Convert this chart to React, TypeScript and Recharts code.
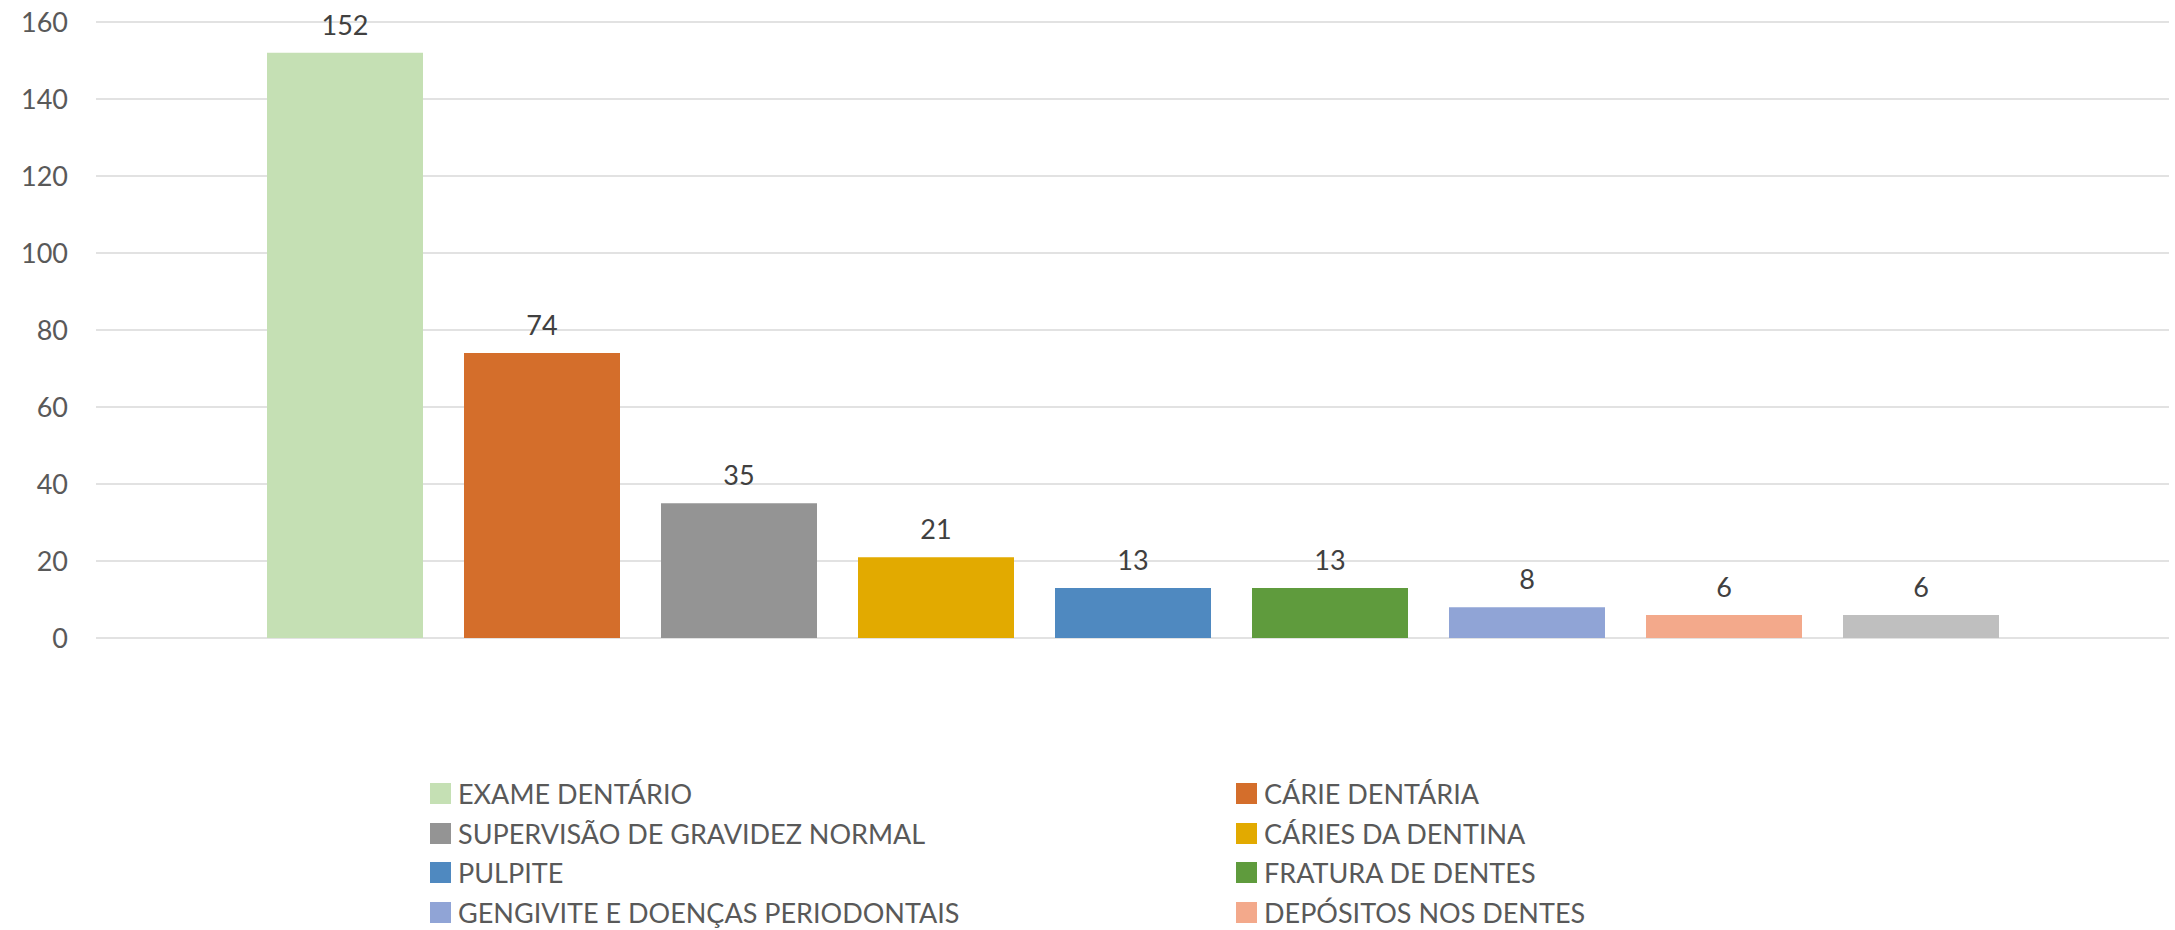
import { BarChart, Bar, XAxis, YAxis, CartesianGrid, Legend, LabelList } from "recharts";

// one category, one series per diagnosis (Excel-style clustered column)
const seriesNames = [
  "EXAME DENTÁRIO",
  "CÁRIE DENTÁRIA",
  "SUPERVISÃO DE GRAVIDEZ NORMAL",
  "CÁRIES DA DENTINA",
  "PULPITE",
  "FRATURA DE DENTES",
  "GENGIVITE E DOENÇAS PERIODONTAIS",
  "DEPÓSITOS NOS DENTES",
  "OUTROS",
];
const seriesValues = [152, 74, 35, 21, 13, 13, 8, 6, 6];
const seriesColors = [
  "#C5E0B4",
  "#D46E2B",
  "#949494",
  "#E2AA00",
  "#4F89C0",
  "#5F9B3D",
  "#90A4D6",
  "#F3A98B",
  "#BFBFBF",
];
const yTicks = [0, 20, 40, 60, 80, 100, 120, 140, 160];

const row: Record<string, string | number> = { name: "total" };
seriesNames.forEach((_, i) => {
  row[`s${i}`] = seriesValues[i];
});
const data = [row];

const FONT = "Lato, 'Open Sans', sans-serif";

function LegendBox() {
  return (
    <div
      style={{
        display: "grid",
        gridTemplateColumns: "806px 806px",
        gridAutoRows: "39.5px",
        fontFamily: FONT,
        fontSize: 27,
        color: "#595959",
      }}
    >
      {seriesNames.map((n, i) => (
        <div key={n} style={{ display: "flex", alignItems: "center", whiteSpace: "nowrap" }}>
          <span
            style={{
              display: "inline-block",
              width: 21,
              height: 21,
              background: seriesColors[i],
              marginRight: 7,
            }}
          />
          <span>{n}</span>
        </div>
      ))}
    </div>
  );
}

export default function App() {
  return (
    <div
      style={{
        position: "absolute",
        left: 0,
        top: 0,
        width: 2175,
        height: 930,
        overflow: "hidden",
        background: "#fff",
        fontFamily: FONT,
      }}
    >
      <BarChart
        width={2175}
        height={930}
        data={data}
        barGap={41}
        margin={{ top: 22, right: 6, bottom: 292, left: 0 }}
      >
        <CartesianGrid vertical={false} stroke="#d9d9d9" strokeWidth={1.5} />
        <XAxis dataKey="name" hide />
        <YAxis
          width={96}
          domain={[0, 160]}
          ticks={yTicks}
          axisLine={false}
          tickLine={false}
          tickMargin={22}
          tick={{ fill: "#595959", fontSize: 27 }}
        />
        <Legend
          layout="vertical"
          align="center"
          verticalAlign="middle"
          wrapperStyle={{ top: 774, left: 430, width: 1612 }}
          content={() => <LegendBox />}
        />
        {seriesNames.map((n, i) => (
          <Bar
            key={n}
            dataKey={`s${i}`}
            name={n}
            fill={seriesColors[i]}
            barSize={156}
            isAnimationActive={false}
          >
            <LabelList dataKey={`s${i}`} position="top" offset={18} fill="#404040" fontSize={27} />
          </Bar>
        ))}
      </BarChart>
    </div>
  );
}
